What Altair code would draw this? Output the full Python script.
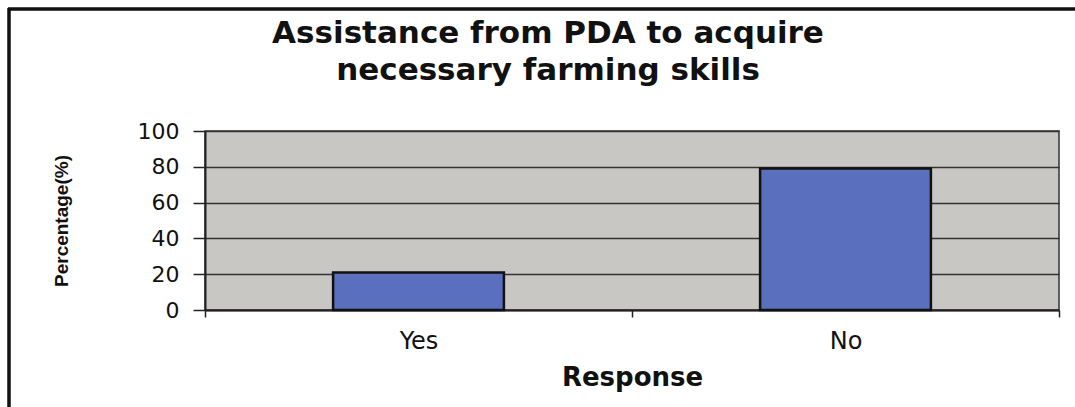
import altair as alt
import pandas as pd

categories = ["Yes", "No"]
percentages = [21, 79]
y_ticks = [0, 20, 40, 60, 80, 100]

df = pd.DataFrame({"Response": categories, "Percentage": percentages})

W, H = 854, 179
PAD_L, PAD_T = 205, 131

bars = alt.Chart(df).mark_bar(
    color="#5a6fbe", stroke="#111111", strokeWidth=2.5,
    width=alt.RelativeBandSize(0.4),
).encode(
    x=alt.X(
        "Response:N",
        sort=categories,
        scale=alt.Scale(paddingInner=0, paddingOuter=0),
        axis=alt.Axis(
            title="Response",
            labelAngle=0,
            labelFont="DejaVu Sans",
            labelFontSize=24,
            labelColor="#111111",
            labelPadding=12,
            tickBand="extent",
            tickSize=7,
            tickColor="#222222",
            tickWidth=1.5,
            domainColor="#222222",
            domainWidth=2,
            titleFont="DejaVu Sans",
            titleFontSize=26,
            titleFontWeight="bold",
            titleColor="#111111",
            titlePadding=11,
        ),
    ),
    y=alt.Y(
        "Percentage:Q",
        scale=alt.Scale(domain=[0, 100], nice=False),
        axis=alt.Axis(
            title="Percentage(%)",
            values=y_ticks,
            labelFont="DejaVu Sans",
            labelFontSize=22,
            labelColor="#111111",
            labelPadding=14,
            tickSize=12,
            tickColor="#222222",
            tickWidth=1.5,
            domainColor="#222222",
            domainWidth=2,
            gridColor="#333333",
            gridWidth=1.5,
            titleFont="Liberation Sans",
            titleFontSize=19,
            titleFontWeight="bold",
            titleColor="#111111",
            titlePadding=66,
        ),
    ),
)

frame_top = alt.Chart(df).mark_rule(color="#111111", strokeWidth=3).encode(
    x=alt.value(8 - PAD_L), x2=alt.value(1075 - PAD_L), y=alt.value(9 - PAD_T)
)
frame_left = alt.Chart(df).mark_rule(color="#111111", strokeWidth=3).encode(
    x=alt.value(9 - PAD_L), y=alt.value(8 - PAD_T), y2=alt.value(407 - PAD_T)
)

chart = alt.layer(bars, frame_top, frame_left).properties(
    width=W,
    height=H,
    autosize=alt.AutoSizeParams(type="none"),
    padding={"left": PAD_L, "top": PAD_T, "right": 1075 - PAD_L - W, "bottom": 407 - PAD_T - H},
    background="white",
    title=alt.TitleParams(
        text=["Assistance from PDA to acquire", "necessary farming skills"],
        font="DejaVu Sans",
        fontSize=31,
        fontWeight="bold",
        color="#111111",
        anchor="middle",
        frame="group",
        dx=-84,
        offset=-80,
        lineHeight=37,
    ),
).configure_view(
    fill="#c9c7c3", stroke="#333333", strokeWidth=1.5
)

chart.save("out.html", embed_options={"renderer": "svg", "actions": False})
